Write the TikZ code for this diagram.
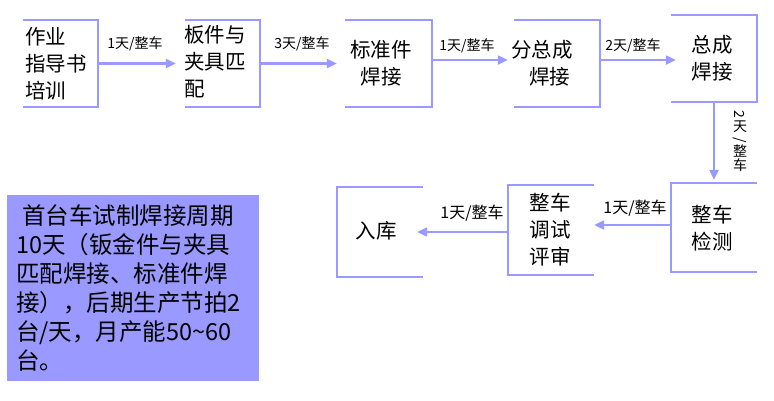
\documentclass[tikz,border=0pt]{standalone}
\usepackage{fontspec}
\setmainfont{Noto Sans CJK SC}
\usepackage{graphicx}
\usepackage{xcolor}
\usepackage{tikz}
\usetikzlibrary{arrows.meta,positioning}
\definecolor{flowblue}{RGB}{153,153,255}

\begin{document}
\begin{tikzpicture}[
    x=1pt, y=-1pt,
    box/.style={rectangle, minimum width=86pt, minimum height=87pt, inner sep=0pt},
    boxtext/.style={font=\fontsize{20.5}{27}\selectfont, inner sep=0pt},
    lab/.style={font=\fontsize{14}{16}\selectfont, inner sep=0pt},
    edge/.style={draw=flowblue, line width=2.4pt},
    arrow/.style={-{Triangle[length=10pt,width=9pt]}, draw=flowblue, line width=2.2pt},
    note/.style={rectangle, fill=flowblue, minimum width=252pt, minimum height=186pt, inner xsep=9pt, text width=234pt, align=left, font=\fontsize{23.5}{29}\selectfont}
]
    \useasboundingbox (0,0) rectangle (774,400);

    \node[box, minimum width=75pt] (guide) at (60.5,63.5) {};
    \node[box, minimum width=75pt] (fixture) at (222.5,63.5) {};
    \node[box, minimum width=87pt] (stdweld) at (388.5,63.5) {};
    \node[box] (subweld) at (557,63.5) {};
    \node[box] (mainweld) at (714,58.5) {};
    \node[box, minimum height=89pt] (inspect) at (714,227.5) {};
    \node[box, minimum height=90pt] (tuning) at (551,230) {};
    \node[box, minimum height=90pt] (storage) at (380,232) {};

    \node[boxtext, align=left, anchor=west] (guidetext) at (25,63.5) {作业\\指导书\\培训};
    \node[boxtext, align=left, anchor=west] (fixturetext) at (184,62) {板件与\\夹具匹\\配};
    \node[boxtext, align=center] (stdweldtext) at (381,63.5) {标准件\\焊接};
    \node[boxtext, align=left, anchor=west] (subweldtext) at (511,63) {分总成\\\hspace*{18pt}焊接};
    \node[boxtext, align=center] (mainweldtext) at (712,58) {总成\\焊接};
    \node[boxtext, align=center] (inspecttext) at (712,228.5) {整车\\检测};
    \node[boxtext, align=center] (tuningtext) at (550,230) {整车\\调试\\评审};
    \node[boxtext] (storagetext) at (376,231) {入库};

    \draw[edge] (guide.north west) -- (guide.north east) -- (guide.south east) -- (guide.south west);
    \draw[edge] (fixture.north west) -- (fixture.north east) -- (fixture.south east) -- (fixture.south west);
    \draw[edge] (stdweld.north west) -- (stdweld.north east) -- (stdweld.south east) -- (stdweld.south west);
    \draw[edge] (subweld.north west) -- (subweld.north east) -- (subweld.south east) -- (subweld.south west);
    \draw[edge] (mainweld.north west) -- (mainweld.north east) -- (mainweld.south east) -- (mainweld.south west);
    \draw[edge] (inspect.north east) -- (inspect.north west) -- (inspect.south west) -- (inspect.south east);
    \draw[edge] (tuning.north east) -- (tuning.north west) -- (tuning.south west) -- (tuning.south east);
    \draw[edge] (storage.north east) -- (storage.north west) -- (storage.south west) -- (storage.south east);

    \coordinate (a34) at ([yshift=3.5pt]stdweld.east);
    \coordinate (a45) at ([yshift=3.5pt]subweld.east);
    \coordinate (a67) at ([yshift=2.5pt]inspect.west);
    \coordinate (a78) at ([yshift=-2pt]tuning.west);

    \draw[arrow, shorten >=9pt] (guide.east) -- (guide.east -| fixture.west);
    \draw[arrow, shorten >=8pt] (fixture.east) -- (fixture.east -| stdweld.west);
    \draw[arrow, shorten >=6pt] (a34) -- (a34 -| subweld.west);
    \draw[arrow, shorten >=-5pt] (a45) -- (a45 -| mainweld.west);
    \draw[arrow, shorten >=3pt] (mainweld.south) -- (inspect.north);
    \draw[arrow] (a67) -- (a67 -| tuning.east);
    \draw[arrow, shorten >=-6pt] (a78) -- (a78 -| storage.east);

    \node[lab] (l12) at (135,44) {1天/整车};
    \node[lab] (l23) at (302,44) {3天/整车};
    \node[lab] (l34) at (467,46) {1天/整车};
    \node[lab] (l45) at (633,46) {2天/整车};
    \node[lab, align=center, font=\fontsize{14}{12.5}\selectfont] (l56) at (740,141) {\rotatebox[origin=c]{-90}{2}\\天\\\rotatebox[origin=c]{-90}{/}\\整\\车};
    \node[lab, font=\fontsize{16}{18}\selectfont] (l67) at (635,208) {1天/整车};
    \node[lab, font=\fontsize{16}{18}\selectfont] (l78) at (472,213) {1天/整车};

    \node[note, anchor=north west] (summary) at (7,195) {\hspace*{6pt}首台车试制焊接周期\\10天（钣金件与夹具\\匹配焊接、标准件焊\\接），后期生产节拍2\\台/天，月产能50\textasciitilde60\\台。};
\end{tikzpicture}
\end{document}
